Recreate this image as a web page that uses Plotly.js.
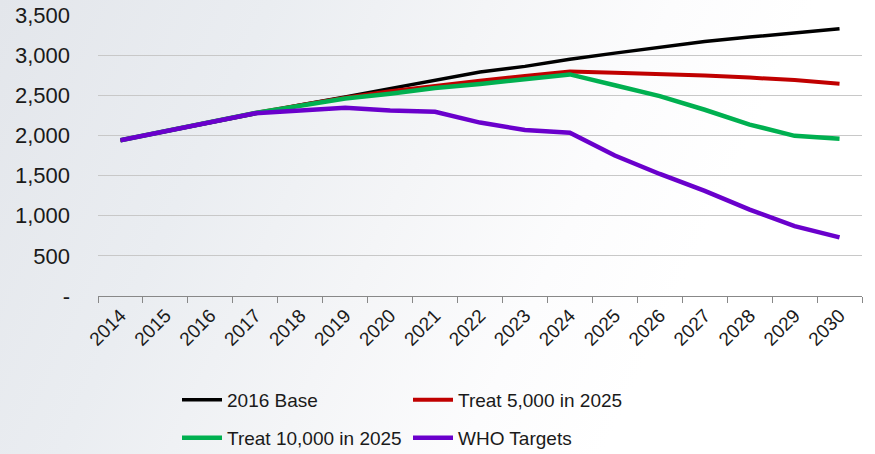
<!DOCTYPE html>
<html>
<head>
<meta charset="utf-8">
<script src="https://cdn.plot.ly/plotly-3.0.1.min.js"></script>
<style>
html,body{margin:0;padding:0;}
#chart{width:875px;height:454px;background:linear-gradient(115deg,#e3e6eb 0%,#eaedf1 25%,#f4f5f7 45%,#fcfcfd 62%,#ffffff 75%);}
</style>
</head>
<body>
<div id="chart"></div>
<script>
const years = ['2014','2015','2016','2017','2018','2019','2020','2021','2022','2023','2024','2025','2026','2027','2028','2029','2030'];
const base2016 = [1940,2050,2160,2280,2380,2480,2580,2690,2790,2860,2950,3025,3095,3170,3225,3280,3330];
const treat5000 = [1940,2050,2160,2280,2375,2470,2550,2620,2680,2740,2795,2780,2765,2745,2720,2690,2645];
const treat10000 = [1940,2050,2160,2280,2370,2460,2520,2590,2640,2700,2760,2625,2490,2320,2135,1995,1960];
const whoTargets = [1940,2050,2160,2275,2310,2345,2310,2295,2160,2068,2034,1750,1520,1310,1075,870,730];
const seriesNames = ['2016 Base','Treat 5,000 in 2025','Treat 10,000 in 2025','WHO Targets'];
const yTickVals = [0,500,1000,1500,2000,2500,3000,3500];
const yTickText = ['-','500','1,000','1,500','2,000','2,500','3,000','3,500'];

const colors = ['#000000','#c00000','#00b050','#6a00cc'];
const widths = [3.5,4,4.5,4.5];
const data = [base2016, treat5000, treat10000, whoTargets].map((v,i)=>({
  type:'scatter', mode:'lines', x:years, y:v, name:seriesNames[i],
  line:{color:colors[i], width:widths[i]},
  legend: i<2 ? 'legend' : 'legend2'
}));

const font = {family:'Liberation Sans, Arial, sans-serif', size:19, color:'#1a1a1a'};
const legendCommon = {orientation:'h', xref:'container', yref:'container', xanchor:'left', yanchor:'middle',
  bgcolor:'rgba(0,0,0,0)', font:font, entrywidth:176, entrywidthmode:'pixels', traceorder:'normal', itemwidth:40};

const layout = {
  width:875, height:454,
  paper_bgcolor:'rgba(0,0,0,0)', plot_bgcolor:'rgba(0,0,0,0)',
  margin:{l:98, r:13, t:15, b:158},
  font:font,
  showlegend:true,
  xaxis:{type:'category', range:[-0.5,16.5], tickangle:-45, tickson:'boundaries', ticks:'outside', ticklen:6,
    tickcolor:'#888', showline:true, linecolor:'#888', linewidth:1, showgrid:false, tickfont:font, fixedrange:true},
  yaxis:{range:[0,3500], tickvals:yTickVals, ticktext:yTickText, showgrid:true, gridcolor:'#c8c8c8', gridwidth:1,
    zeroline:false, showline:false, ticks:'', tickfont:Object.assign({}, font, {size:22}), ticklabelstandoff:27, fixedrange:true},
  legend:Object.assign({x:177/875, y:1-400/454}, legendCommon),
  legend2:Object.assign({x:177/875, y:1-438/454}, legendCommon)
};
Plotly.newPlot('chart', data, layout, {displayModeBar:false, staticPlot:true});
</script>
</body>
</html>
